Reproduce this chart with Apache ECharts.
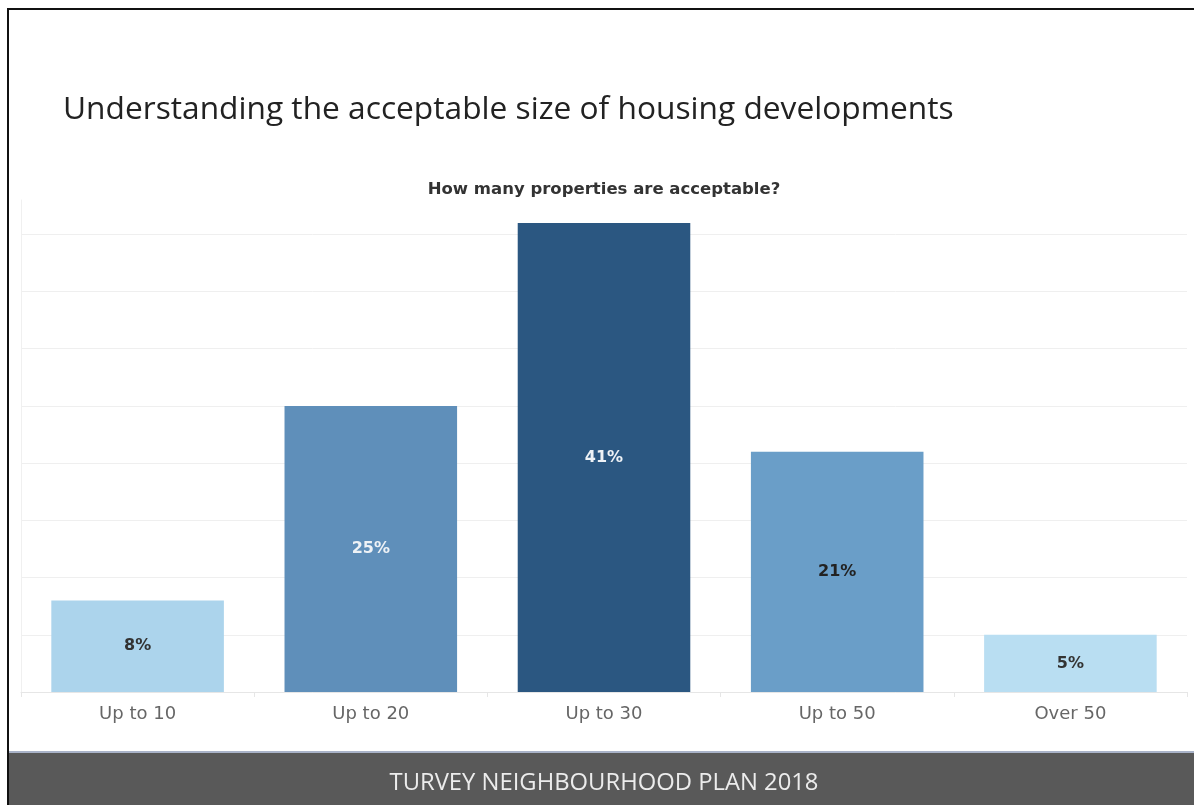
<!DOCTYPE html>
<html>
<head>
<meta charset="utf-8">
<script src="https://cdn.jsdelivr.net/npm/echarts@6/dist/echarts.min.js"></script>
<style>
html,body{margin:0;padding:0;background:#fff;}
#chart{width:1194px;height:805px;}
</style>
</head>
<body>
<div id="chart"></div>
<script>
var categories = ['Up to 10', 'Up to 20', 'Up to 30', 'Up to 50', 'Over 50'];
var values = [8, 25, 41, 21, 5];
var barColors = ['#acd4ec', '#5f8fba', '#2b5781', '#6a9ec8', '#b9def2'];
var labelColors = ['#333333', '#eef2f6', '#eef2f6', '#222222', '#333333'];
var titleText = 'Understanding the acceptable size of housing developments';
var subtitleText = 'How many properties are acceptable?';
var footerText = 'TURVEY NEIGHBOURHOOD PLAN 2018';

var chart = echarts.init(document.getElementById('chart'));
var gridColors = [];
for (var i = 0; i < 9; i++) gridColors.push('#efefef');
gridColors.push('rgba(0,0,0,0)');

chart.setOption({
  animation: false,
  backgroundColor: '#ffffff',
  title: [
    { text: titleText, left: 58, top: 89,
      textStyle: { fontFamily: 'Open Sans', fontSize: 31.7, fontWeight: 'normal', color: '#222' } }
  ],
  graphic: [
    { type: 'rect', shape: { x: 8, y: 9, width: 1200, height: 800 },
      style: { fill: 'none', stroke: '#111', lineWidth: 2 }, z: 10 },
    { type: 'text', x: 604, y: 190, z: 12,
      style: { text: subtitleText, fill: '#333', font: 'bold 16.5px "DejaVu Sans"',
               align: 'center', verticalAlign: 'middle' } },
    { type: 'rect', shape: { x: 9, y: 752, width: 1190, height: 60 },
      style: { fill: '#595959' }, z: 11 },
    { type: 'rect', shape: { x: 9, y: 751, width: 1190, height: 2 },
      style: { fill: '#a9b3c8' }, z: 11 },
    { type: 'text', x: 604, y: 783, z: 12,
      style: { text: footerText, fill: '#ececec', font: '23.8px "Open Sans"',
               align: 'center', verticalAlign: 'middle' } }
  ],
  grid: { left: 21, right: 7, top: 200, bottom: 113 },
  xAxis: {
    type: 'category',
    data: categories,
    axisLine: { show: true, lineStyle: { color: '#e6e6e6' } },
    axisTick: { show: true, length: 5, lineStyle: { color: '#e6e6e6' } },
    axisLabel: { color: '#666', fontSize: 18, fontFamily: 'DejaVu Sans', margin: 13 }
  },
  yAxis: {
    type: 'value',
    min: 0, max: 43, interval: 5,
    axisLabel: { show: false },
    axisTick: { show: false },
    axisLine: { show: true, lineStyle: { color: '#f0f0f0' } },
    splitLine: { show: true, lineStyle: { color: gridColors, width: 1 } }
  },
  series: [{
    type: 'bar',
    barWidth: '74%',
    data: values.map(function (v, i) {
      return {
        value: v,
        itemStyle: { color: barColors[i] },
        label: { color: labelColors[i] }
      };
    }),
    label: {
      show: true, position: 'inside',
      formatter: '{c}%',
      fontFamily: 'DejaVu Sans', fontSize: 16, fontWeight: 'bold'
    }
  }]
});
</script>
</body>
</html>
